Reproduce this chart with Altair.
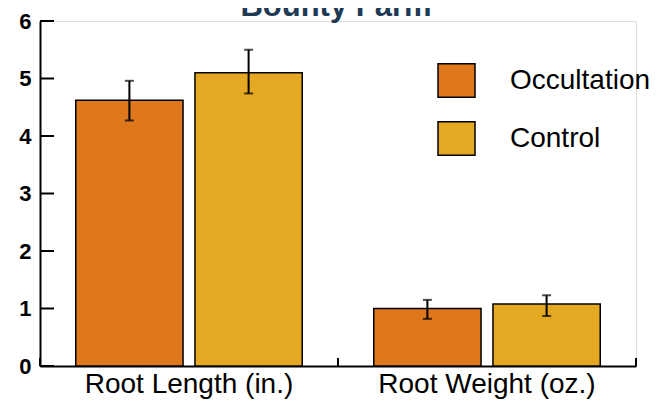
import altair as alt
import pandas as pd

categories = ["Root Length (in.)", "Root Weight (oz.)"]
series = ["Occultation", "Control"]
occ_values = [4.62, 1.00]
ctrl_values = [5.10, 1.08]
occ_low = [4.27, 0.82]
occ_high = [4.96, 1.15]
ctrl_low = [4.74, 0.87]
ctrl_high = [5.50, 1.23]
colors = ["#df771d", "#e5a823"]
y_ticks = [0, 1, 2, 3, 4, 5, 6]
title_text = ["Bounty Farm"]

rows = []
for i, c in enumerate(categories):
    rows.append({"cat": c, "series": "Occultation", "value": occ_values[i], "lo": occ_low[i], "hi": occ_high[i]})
    rows.append({"cat": c, "series": "Control", "value": ctrl_values[i], "lo": ctrl_low[i], "hi": ctrl_high[i]})
df = pd.DataFrame(rows)
tick_df = pd.DataFrame({"t": y_ticks})
cat_df = pd.DataFrame({"cat": categories})
last_df = pd.DataFrame({"cat": categories[-1:]})
title_df = pd.DataFrame({"title": title_text})

FONT = "Liberation Sans"

x_enc = alt.X("cat:N", sort=categories,
              scale=alt.Scale(domain=categories, paddingInner=0, paddingOuter=0),
              axis=alt.Axis(title=None, labelFont=FONT, labelFontSize=28, labelColor="black",
                            labelPadding=4, ticks=False, domainColor="black", domainWidth=2,
                            labelAngle=0, labelLimit=400))
xoff = alt.XOffset("series:N", sort=series,
                   scale=alt.Scale(domain=series, paddingInner=0.1, paddingOuter=0.3))
y_scale = alt.Scale(domain=[0, 6], nice=False, zero=True)

bars = alt.Chart(df).mark_bar(stroke="black", strokeWidth=1.5).encode(
    x=x_enc,
    xOffset=xoff,
    y=alt.Y("value:Q", scale=y_scale,
            axis=alt.Axis(title=None, values=y_ticks, format="d", grid=False, ticks=False,
                          labelFont=FONT, labelFontSize=22, labelFontWeight="bold",
                          labelColor="black", labelPadding=9,
                          domainColor="black", domainWidth=2)),
    color=alt.Color("series:N", sort=series,
                    scale=alt.Scale(domain=series, range=colors),
                    legend=alt.Legend(title=None, orient="none", legendX=397, legendY=40,
                                      padding=0, symbolType="M-1,-0.9H1V0.9H-1Z",
                                      symbolSize=1369, symbolStrokeColor="black",
                                      symbolStrokeWidth=1.5, symbolOpacity=1,
                                      labelFont=FONT, labelFontSize=28, labelColor="black",
                                      labelOffset=34, rowPadding=17, labelLimit=300)),
)

err = alt.Chart(df).mark_rule(color="black", strokeWidth=2).encode(
    x=alt.X("cat:N", sort=categories),
    xOffset=alt.XOffset("series:N", sort=series),
    y=alt.Y("lo:Q"),
    y2="hi:Q",
)
cap_lo = alt.Chart(df).mark_tick(color="black", thickness=2, size=9).encode(
    x=alt.X("cat:N", sort=categories),
    xOffset=alt.XOffset("series:N", sort=series),
    y=alt.Y("lo:Q"),
)
cap_hi = alt.Chart(df).mark_tick(color="black", thickness=2, size=9).encode(
    x=alt.X("cat:N", sort=categories),
    xOffset=alt.XOffset("series:N", sort=series),
    y=alt.Y("hi:Q"),
)

ytick_marks = alt.Chart(tick_df).mark_rule(color="black", strokeWidth=2).encode(
    x=alt.value(0), x2=alt.value(14), y=alt.Y("t:Q"),
)
xtick_marks = alt.Chart(cat_df).mark_rule(color="black", strokeWidth=2).encode(
    x=alt.X("cat:N", sort=categories, bandPosition=0), y=alt.value(337), y2=alt.value(345),
)
xtick_end = alt.Chart(last_df).mark_rule(color="black", strokeWidth=2).encode(
    x=alt.X("cat:N", sort=categories, bandPosition=1), y=alt.value(337), y2=alt.value(345),
)

title_mark = alt.Chart(title_df).mark_text(
    font=FONT, fontSize=31, fontWeight="bold", color="#1f3a55",
    baseline="alphabetic", align="center",
).encode(text="title:N", x=alt.value(296), y=alt.value(-5))

chart = alt.layer(bars, err, cap_lo, cap_hi, ytick_marks, xtick_marks, xtick_end, title_mark).properties(
    width=596, height=345,
    autosize=alt.AutoSizeParams(type="none"),
    padding={"left": 32, "top": 13, "right": 23, "bottom": 35},
).configure_view(stroke=None).configure(background="white")

chart.save("out.html", embed_options={"renderer": "svg", "actions": False})
